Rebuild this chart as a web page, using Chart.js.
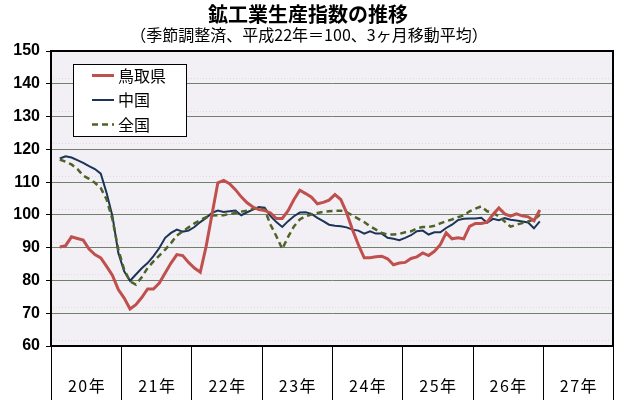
<!DOCTYPE html>
<html lang="ja">
<head>
<meta charset="utf-8">
<script src="https://cdn.jsdelivr.net/npm/chart.js@4.4.1/dist/chart.umd.min.js"></script>
<style>
html,body{margin:0;padding:0;background:#fff;}
#wrap{position:relative;width:630px;height:400px;}
</style>
</head>
<body>
<div id="wrap"><canvas id="c" width="630" height="400"></canvas></div>
<script>
const TITLE = '鉱工業生産指数の推移';
const SUBTITLE = '（季節調整済、平成22年＝100、3ヶ月移動平均）';
const YEARS = [20,21,22,23,24,25,26,27];
const MONTHS = [1,2,3,4,5,6,7,8,9,10,11,12];
const Y_MIN = 60, Y_MAX = 150, Y_STEP = 10;

// 3ヶ月移動平均 H20.1 ～ H26.12（H20.1 は値なし）
const TOTTORI = [null,
  90.2,90.6,93.3,92.8,92.3,89.6,87.9,86.9,84.3,81.5,77.2,
  74.6,71.3,72.6,74.8,77.4,77.4,79.2,82.3,85.3,87.9,87.6,85.5,
  83.8,82.5,90.4,100.1,109.8,110.5,109.5,107.7,105.5,103.7,102.4,101.6,
  101.3,100.6,98.9,98.9,101.3,104.7,107.5,106.5,105.4,103.4,103.8,104.5,
  106.2,104.7,100.6,95.5,90.9,86.9,86.9,87.2,87.4,86.6,84.8,85.3,
  85.5,86.7,87.2,88.4,87.6,88.9,90.9,94.5,92.7,93.0,92.7,96.5,
  97.4,97.4,97.8,100.1,102.1,100.3,99.6,100.3,99.7,99.4,98.2,101.5];
const CHUGOKU = [null,
  117.2,117.9,117.5,116.7,115.9,114.9,114.0,112.6,106.7,99.6,88.4,
  82.8,79.9,81.8,83.7,85.3,87.4,89.9,93.0,94.5,95.5,94.9,95.2,
  96.3,97.8,99.1,100.6,101.3,100.9,101.1,101.3,99.9,100.8,101.6,102.4,
  102.2,99.6,97.8,96.3,98.1,99.6,100.7,100.8,100.3,99.1,98.1,97.0,
  96.7,96.5,96.2,95.5,95.2,94.3,95.0,94.3,94.3,93.0,92.7,92.3,
  93.0,93.8,95.0,95.2,94.0,94.7,94.7,96.0,97.0,98.4,98.8,98.9,
  98.9,99.1,97.6,98.8,98.4,99.0,98.5,98.3,98.0,97.7,95.9,98.0];
const ZENKOKU = [null,
  116.9,116.2,115.4,114.0,112.0,111.0,109.8,108.2,104.7,98.6,89.4,
  83.3,79.7,78.7,81.0,83.8,85.8,87.6,89.4,91.4,93.7,95.0,96.2,
  97.4,98.4,99.3,99.8,99.9,99.9,100.3,100.6,101.0,101.3,101.8,102.1,
  101.6,97.0,93.5,89.6,93.3,96.5,98.6,99.6,100.1,100.6,100.9,101.1,
  101.3,101.3,100.8,99.8,98.8,97.8,96.5,95.5,94.5,94.0,94.0,94.2,
  94.7,95.0,95.9,96.3,96.3,96.7,97.4,98.1,98.6,99.3,99.8,101.1,
  101.9,102.6,101.1,100.6,99.6,98.0,96.4,97.0,97.5,98.0,98.6,100.0];

const LABELS = [];
YEARS.forEach(y => MONTHS.forEach(m => LABELS.push('H' + y + '.' + m)));

const JP = '"Noto Sans CJK JP", "Noto Sans", sans-serif';

const plotDeco = {
  id: 'plotDeco',
  beforeDraw(chart) {
    const {ctx, chartArea:{left, right, top, bottom}} = chart;
    ctx.save();
    ctx.fillStyle = '#f2f0f4';
    ctx.fillRect(left, top, right - left, bottom - top);
    // 薄い点線（背景の模様）
    const y = chart.scales.y;
    ctx.strokeStyle = '#dddbe2';
    ctx.lineWidth = 1;
    ctx.setLineDash([1, 2]);
    for (let v = Y_MIN; v <= Y_MAX; v += Y_STEP) {
      const py = Math.round(y.getPixelForValue(v)) - 5.5;
      if (py < top + 2) continue;
      ctx.beginPath(); ctx.moveTo(left + 2, py); ctx.lineTo(right - 2, py); ctx.stroke();
    }
    ctx.restore();
  },
  afterDraw(chart) {
    const {ctx, chartArea:{left, right, top, bottom}} = chart;
    const x = chart.scales.x;
    ctx.save();
    // 枠
    ctx.strokeStyle = '#000';
    ctx.lineWidth = 2;
    ctx.strokeRect(left, top, right - left, bottom - top);

    // 年の区切りと年ラベル
    const w = x.getPixelForValue(1) - x.getPixelForValue(0);
    const bounds = YEARS.map((_, k) => x.getPixelForValue(k * MONTHS.length) - w / 2);
    bounds.push(x.getPixelForValue(LABELS.length - 1) + w / 2);
    ctx.lineWidth = 1;
    bounds.forEach(bx => {
      const px = Math.round(bx) + 0.5;
      ctx.beginPath(); ctx.moveTo(px, bottom); ctx.lineTo(px, chart.height); ctx.stroke();
    });
    ctx.fillStyle = '#000';
    ctx.font = '16px ' + JP;
    ctx.textAlign = 'center';
    ctx.textBaseline = 'middle';
    ctx.letterSpacing = '1.5px';
    YEARS.forEach((y, k) => ctx.fillText(y + '年', (bounds[k] + bounds[k + 1]) / 2 + 1, 386));
    ctx.letterSpacing = '0px';

    // タイトル
    ctx.font = 'bold 20px ' + JP;
    ctx.fillText(TITLE, 308, 14);
    ctx.font = '16px ' + JP;
    ctx.fillText(SUBTITLE, 309, 35);

    // 凡例
    ctx.fillStyle = '#fff';
    ctx.fillRect(73.5, 64.5, 113, 72);
    ctx.strokeStyle = '#000';
    ctx.lineWidth = 1;
    ctx.strokeRect(73.5, 64.5, 113, 72);
    ctx.textAlign = 'left';
    ctx.font = '16px ' + JP;
    chart.data.datasets.forEach((ds, i) => {
      const ly = 75.5 + i * 24.5;
      ctx.strokeStyle = ds.borderColor;
      ctx.lineWidth = ds.borderWidth;
      ctx.setLineDash(ds.borderDash || []);
      ctx.beginPath(); ctx.moveTo(92, ly); ctx.lineTo(114, ly); ctx.stroke();
      ctx.setLineDash([]);
      ctx.fillStyle = '#000';
      ctx.fillText(ds.label, 118, ly);
    });
    ctx.restore();
  }
};

new Chart(document.getElementById('c').getContext('2d'), {
  type: 'line',
  data: {
    labels: LABELS,
    datasets: [
      {label:'鳥取県', data:TOTTORI, borderColor:'#c0504d', borderWidth:3, order:0},
      {label:'中国', data:CHUGOKU, borderColor:'#1b3458', borderWidth:2, order:2},
      {label:'全国', data:ZENKOKU, borderColor:'#4f6228', borderWidth:2.5, borderDash:[6,4], order:1}
    ]
  },
  options: {
    responsive:false, animation:false,
    layout:{padding:{top:51, right:17, bottom:0, left:0}},
    elements:{point:{radius:0}, line:{tension:0, borderCapStyle:'butt'}},
    plugins:{legend:{display:false}, tooltip:{enabled:false}},
    scales:{
      x:{offset:true, grid:{display:false}, ticks:{display:false},
         border:{display:true, color:'#000', width:2},
         afterFit(s){ s.height = 54; }},
      y:{min:Y_MIN, max:Y_MAX,
         ticks:{stepSize:Y_STEP, color:'#000', padding:6, font:{family:'"Liberation Sans", Arial, sans-serif', size:16, weight:'bold'}},
         grid:{color:'#71806c', lineWidth:1, tickLength:5, tickColor:'#000', tickWidth:1},
         border:{color:'#000', width:2},
         afterFit(s){ s.width = 51; }}
    }
  },
  plugins:[plotDeco]
});
</script>
</body>
</html>
